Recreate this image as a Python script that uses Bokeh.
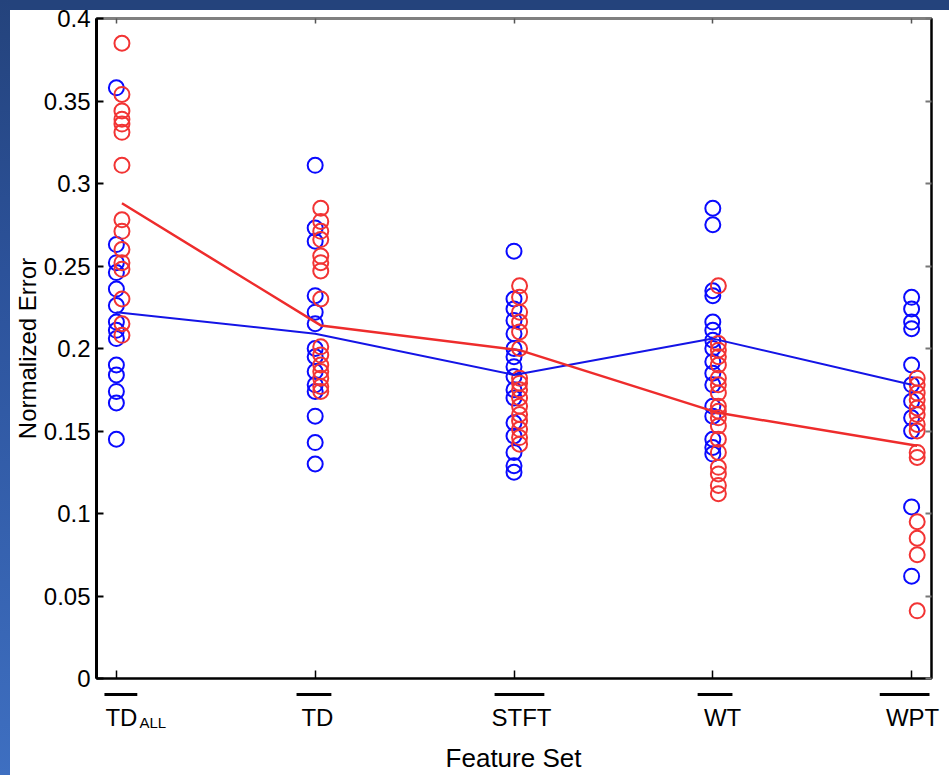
from bokeh.plotting import figure
from bokeh.models import ColumnDataSource, Range1d, FixedTicker, LinearAxis, CustomJSTickFormatter, Div
from bokeh.layouts import row, column
from bokeh.embed import file_html
from bokeh.resources import INLINE
from bokeh.core.properties import value

# ---------------- data ----------------
categories = ["TD_ALL", "TD", "STFT", "WT", "WPT"]
label_main = ["TD", "TD", "STFT", "WT", "WPT"]
label_sub = ["ALL", "", "", "", ""]
x_title = "Feature Set"
y_title = "Normalized Error"
y_ticks = [0, 0.05, 0.1, 0.15, 0.2, 0.25, 0.3, 0.35, 0.4]

blue_td_all = [0.358, 0.263, 0.252, 0.246, 0.236, 0.226, 0.216, 0.211, 0.206, 0.190, 0.184, 0.174, 0.167, 0.145]
red_td_all = [0.385, 0.354, 0.344, 0.339, 0.336, 0.331, 0.311, 0.278, 0.271, 0.260, 0.252, 0.248, 0.230, 0.215, 0.208]
blue_td = [0.311, 0.273, 0.265, 0.232, 0.222, 0.215, 0.200, 0.195, 0.186, 0.178, 0.174, 0.159, 0.143, 0.130]
red_td = [0.285, 0.277, 0.271, 0.266, 0.256, 0.252, 0.247, 0.230, 0.201, 0.196, 0.190, 0.186, 0.182, 0.177, 0.174]
blue_stft = [0.259, 0.230, 0.224, 0.217, 0.209, 0.200, 0.195, 0.189, 0.183, 0.175, 0.170, 0.155, 0.147, 0.137, 0.129, 0.125]
red_stft = [0.238, 0.231, 0.222, 0.216, 0.210, 0.200, 0.182, 0.179, 0.175, 0.170, 0.165, 0.160, 0.156, 0.151, 0.146, 0.142]
blue_wt = [0.285, 0.275, 0.235, 0.232, 0.216, 0.211, 0.205, 0.200, 0.192, 0.185, 0.178, 0.165, 0.159, 0.145, 0.140, 0.136]
red_wt = [0.238, 0.203, 0.199, 0.195, 0.190, 0.182, 0.178, 0.173, 0.165, 0.162, 0.158, 0.153, 0.145, 0.137, 0.128, 0.124, 0.117, 0.112]
blue_wpt = [0.231, 0.224, 0.216, 0.212, 0.190, 0.178, 0.168, 0.158, 0.150, 0.104, 0.062]
red_wpt = [0.182, 0.178, 0.173, 0.169, 0.164, 0.160, 0.154, 0.150, 0.137, 0.134, 0.095, 0.085, 0.075, 0.041]

blue_mean = [0.222, 0.209, 0.184, 0.206, 0.178]
red_mean = [0.288, 0.214, 0.199, 0.161, 0.141]

# ---------------- styles ----------------
FONT = "Liberation Sans"
BLUE = "#0a0aff"
RED = "#f23434"
RED_SHIFT = 0.028           # red series drawn slightly to the right
BAR_LEFT = [-0.055, -0.09, -0.095, -0.075, -0.16]
BAR_RIGHT = [0.11, 0.085, 0.155, 0.10, 0.09]

FIG_W = 939
BL, BR = 85, 18                 # left / right borders of the plot frame
X0, X1 = -0.1, 4.1
SCALE = (FIG_W - BL - BR) / (X1 - X0)   # px per category unit

blue_sets = [blue_td_all, blue_td, blue_stft, blue_wt, blue_wpt]
red_sets = [red_td_all, red_td, red_stft, red_wt, red_wpt]
pos = list(range(len(categories)))

bx, by, rx, ry = [], [], [], []
for i, (bs, rs) in enumerate(zip(blue_sets, red_sets)):
    bx += [pos[i]] * len(bs)
    by += bs
    rx += [pos[i] + RED_SHIFT] * len(rs)
    ry += rs

blue_src = ColumnDataSource(dict(x=bx, y=by))
red_src = ColumnDataSource(dict(x=rx, y=ry))

blank = CustomJSTickFormatter(code="return '';")

main = figure(width=FIG_W, height=692, x_range=Range1d(X0, X1), y_range=Range1d(0, 0.4),
              output_backend="svg", toolbar_location=None,
              min_border_left=BL, min_border_right=BR, min_border_top=18, min_border_bottom=14)
main.background_fill_color = "white"
main.border_fill_color = "white"
main.outline_line_color = "black"
main.outline_line_width = 2
main.xgrid.visible = False
main.ygrid.visible = False

xa = main.xaxis[0]
xa.ticker = FixedTicker(ticks=pos)
xa.formatter = blank
xa.major_label_text_font_size = "1px"
xa.major_label_standoff = 0
xa.major_tick_in = 8
xa.major_tick_out = 0
xa.major_tick_line_width = 1.5
xa.axis_line_width = 2
xa.minor_tick_line_color = None

ya = main.yaxis[0]
ya.ticker = FixedTicker(ticks=y_ticks)
ya.formatter = CustomJSTickFormatter(code="return String(Math.round(tick*100)/100);")
ya.major_label_text_font = FONT
ya.major_label_text_font_size = "24px"
ya.major_label_text_color = "black"
ya.major_label_standoff = 6
ya.major_tick_in = 7
ya.major_tick_out = 0
ya.major_tick_line_width = 2
ya.minor_tick_line_color = None
ya.axis_line_width = 3
ya.axis_label = y_title
ya.axis_label_text_font = FONT
ya.axis_label_text_font_size = "24px"
ya.axis_label_text_font_style = "normal"
ya.axis_label_text_color = "black"
ya.axis_label_standoff = 0

ra = LinearAxis(ticker=FixedTicker(ticks=y_ticks), formatter=blank, major_label_text_font_size="1px",
                major_label_standoff=0, major_tick_in=6, major_tick_out=0,
                major_tick_line_color="#777777", major_tick_line_width=2,
                minor_tick_line_color=None, axis_line_color="black", axis_line_width=2)
main.add_layout(ra, "right")
ta = LinearAxis(ticker=FixedTicker(ticks=pos), formatter=blank, major_label_text_font_size="1px",
                major_label_standoff=0, major_tick_in=5, major_tick_out=0,
                major_tick_line_color="#555555", major_tick_line_width=1.5,
                minor_tick_line_color=None, axis_line_color="#808080", axis_line_width=3)
main.add_layout(ta, "above")

main.scatter(x="x", y="y", source=blue_src, marker="circle", size=15,
             fill_color=None, line_color=BLUE, line_width=2)
main.scatter(x="x", y="y", source=red_src, marker="circle", size=15,
             fill_color=None, line_color=RED, line_width=2)
main.line(x=pos, y=blue_mean, line_color="#1414e6", line_width=2)
main.line(x=[p + RED_SHIFT for p in pos], y=red_mean, line_color="#ee2c2c", line_width=2.5)

# ---------------- label strip under the axis (same horizontal scale) ----------------
BH = 83
can_unalign = "frame_align" in figure.properties()
if can_unalign:
    bx0 = X0 - BL / SCALE
    b_range = Range1d(bx0, bx0 + FIG_W / SCALE)
    b_borders = dict(min_border_left=0, min_border_right=0)
    LABEL_DX = [-10, 3, 8, 10, 1]
else:
    b_range = main.x_range
    b_borders = dict(min_border_left=BL, min_border_right=BR)
    LABEL_DX = [-10, 3, 8, 10, -7]

bottom = figure(width=FIG_W, height=BH, x_range=b_range, y_range=Range1d(BH, 0),
                output_backend="svg", toolbar_location=None,
                x_axis_location=None, y_axis_location=None,
                min_border_top=0, min_border_bottom=0, **b_borders)
if can_unalign:
    bottom.frame_align = False
bottom.outline_line_color = None
bottom.grid.visible = False
bottom.background_fill_color = "white"
bottom.border_fill_color = "white"

bottom.segment(x0=[p + d for p, d in zip(pos, BAR_LEFT)], y0=[2] * 5,
               x1=[p + d for p, d in zip(pos, BAR_RIGHT)], y1=[2] * 5,
               line_color="black", line_width=3)
lab_src = ColumnDataSource(dict(x=pos, y=[25] * 5, t=label_main, dx=LABEL_DX,
                                align=["left", "center", "center", "center", "center"]))
bottom.text(x="x", y="y", text="t", x_offset="dx", source=lab_src, text_align="align",
            text_baseline="middle", text_font=value(FONT), text_font_size="24px", text_color="black")
bottom.text(x=[pos[0]], y=[30], text=[label_sub[0]], x_offset=[24], text_align="left",
            text_baseline="middle", text_font=value(FONT), text_font_size="15px", text_color="black")
bottom.text(x=[2.0], y=[65], text=[x_title], text_align="center", text_baseline="middle",
            text_font=value(FONT), text_font_size="26px", text_color="black")

top_strip = Div(width=FIG_W, height=10, margin=(0, 0, -10, 0),
                styles={"background-color": "#24437c", "position": "relative", "z-index": "10"})
left_strip = Div(width=10, height=775, margin=0,
                 styles={"background": "linear-gradient(to bottom, #24437c 0%, #2c529a 35%, #3e6fc1 100%)"})

layout = row(left_strip, column(top_strip, main, bottom))

open("out.html", "w").write(file_html(layout, INLINE))
